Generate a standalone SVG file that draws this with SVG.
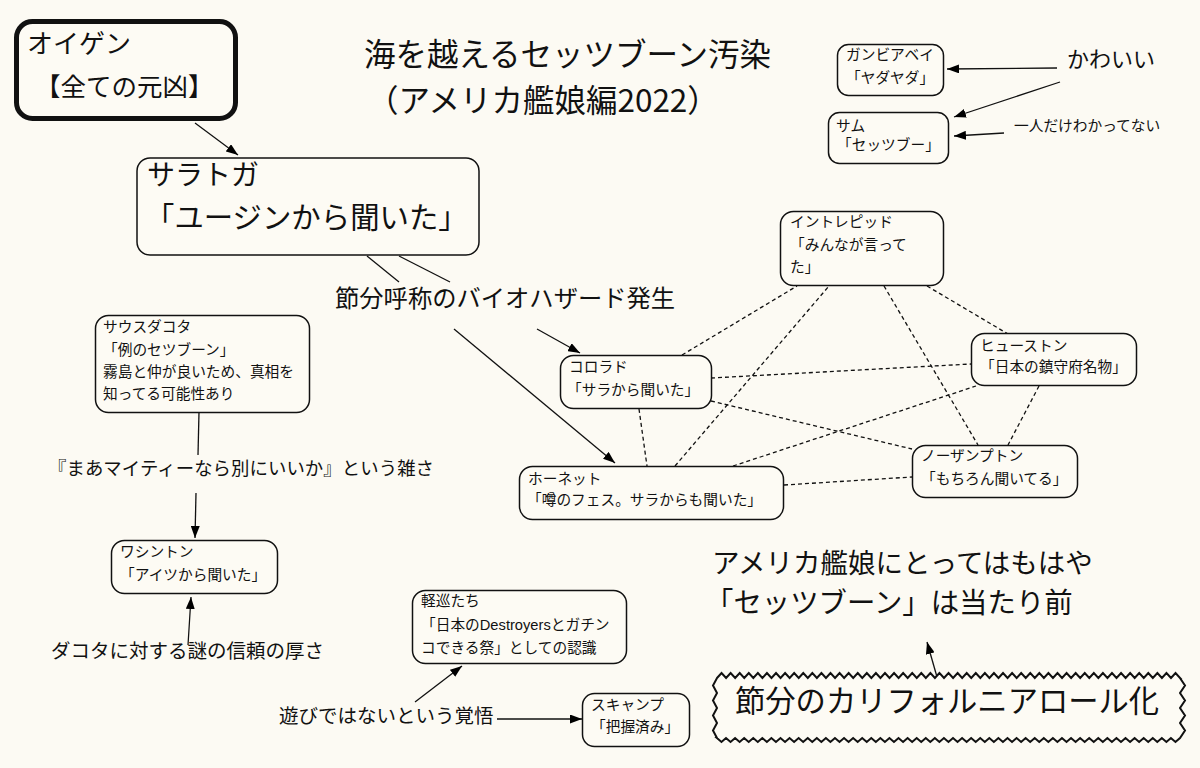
<svg xmlns="http://www.w3.org/2000/svg" width="1200" height="768" viewBox="0 0 1200 768">
<defs>
<marker id="ah" viewBox="0 0 12 9" refX="12" refY="4.5" markerWidth="12" markerHeight="9" orient="auto" markerUnits="userSpaceOnUse">
<path d="M0,0 L12,4.5 L0,9 z" fill="#000"/>
</marker>
<style>
text{font-family:"Noto Sans CJK JP","Noto Sans CJK SC",sans-serif;fill:#111}
.lat{font-family:"Liberation Sans",Arial,sans-serif}
.box{fill:#fdfbf4;stroke:#111;stroke-width:1.5}
.s{font-size:14.7px}
.ln{stroke:#111;stroke-width:1.3;fill:none}
.ar{stroke:#111;stroke-width:1.3;fill:none;marker-end:url(#ah)}
.ds{stroke:#111;stroke-width:1.3;fill:none;stroke-dasharray:4 3}
</style>
</defs>
<rect width="1200" height="768" fill="#fcfaf3"/>

<g id="connectors">
<line class="ar" x1="195" y1="123" x2="238" y2="155"/>
<line class="ln" x1="367" y1="256" x2="399" y2="282"/>
<line class="ln" x1="399" y1="256" x2="450" y2="282"/>
<line class="ar" x1="454" y1="329" x2="615" y2="463"/>
<line class="ar" x1="537" y1="329" x2="580" y2="353"/>
<line class="ar" x1="1057" y1="68" x2="947" y2="69"/>
<line class="ar" x1="1060" y1="82" x2="954" y2="117"/>
<line class="ar" x1="1004" y1="133" x2="954" y2="136"/>
<line class="ln" x1="199" y1="412" x2="198" y2="455"/>
<line class="ar" x1="196" y1="493" x2="195" y2="538"/>
<line class="ar" x1="188" y1="645" x2="191" y2="597"/>
<line class="ar" x1="415" y1="702" x2="462" y2="666"/>
<line class="ar" x1="497" y1="719" x2="582" y2="719"/>
<line class="ar" x1="937" y1="677" x2="927" y2="642"/>
<line class="ds" x1="682" y1="355" x2="797" y2="286"/>
<line class="ds" x1="675" y1="466" x2="829" y2="286"/>
<line class="ds" x1="711" y1="378" x2="971" y2="364"/>
<line class="ds" x1="711" y1="401" x2="912" y2="449"/>
<line class="ds" x1="639" y1="409" x2="647" y2="466"/>
<line class="ds" x1="733" y1="466" x2="976" y2="386"/>
<line class="ds" x1="784" y1="485" x2="912" y2="477"/>
<line class="ds" x1="884" y1="286" x2="978" y2="445"/>
<line class="ds" x1="927" y1="286" x2="1008" y2="334"/>
<line class="ds" x1="1039" y1="386" x2="1008" y2="445"/>
</g>

<g id="title">
<text x="364" y="66" font-size="31.5">海を越えるセッツブーン汚染</text>
<text x="367" y="112" font-size="31.5">（アメリカ艦娘編2022）</text>
</g>

<g id="eugen">
<rect x="16.5" y="21.5" width="219" height="97" rx="16" fill="#fdfbf4" stroke="#111" stroke-width="5"/>
<text x="27" y="53" font-size="26">オイゲン</text>
<text x="35" y="96" font-size="25.5">【全ての元凶】</text>
</g>

<g id="saratoga">
<rect class="box" x="137" y="158" width="342" height="97" rx="13"/>
<text x="147" y="185" font-size="28">サラトガ</text>
<text x="145" y="228" font-size="29.4">「ユージンから聞いた」</text>
</g>

<g id="gambier">
<rect class="box" x="837.5" y="44.5" width="106" height="51" rx="11"/>
<text class="s" x="846" y="60">ガンビアベイ</text>
<text class="s" x="846" y="83">「ヤダヤダ」</text>
</g>

<g id="sam">
<rect class="box" x="828.5" y="112.5" width="120" height="51" rx="11"/>
<text class="s" x="836" y="131">サム</text>
<text class="s" x="837" y="150">「セッツブー」</text>
</g>

<g id="kawaii"><text x="1067" y="67" font-size="22">かわいい</text></g>
<g id="hitori"><text x="1014" y="131" font-size="14.7">一人だけわかってない</text></g>

<g id="intrepid">
<rect class="box" x="780.5" y="211.5" width="163" height="74" rx="13"/>
<text class="s" x="790" y="227">イントレピッド</text>
<text class="s" x="790" y="250">「みんなが言って</text>
<text class="s" x="790" y="272">た」</text>
</g>

<g id="houston">
<rect class="box" x="971.5" y="333.5" width="165" height="52" rx="13"/>
<text class="s" x="980" y="351">ヒューストン</text>
<text class="s" x="980" y="372">「日本の鎮守府名物」</text>
</g>

<g id="northampton">
<rect class="box" x="912.5" y="445.5" width="165" height="52" rx="13"/>
<text class="s" x="921" y="461">ノーザンプトン</text>
<text class="s" x="921" y="484">「もちろん聞いてる」</text>
</g>

<g id="colorado">
<rect class="box" x="560.5" y="355.5" width="151" height="53" rx="13"/>
<text class="s" x="569" y="372">コロラド</text>
<text class="s" x="567" y="395">「サラから聞いた」</text>
</g>

<g id="hornet">
<rect class="box" x="519.5" y="466.5" width="264" height="53" rx="13"/>
<text class="s" x="528" y="484">ホーネット</text>
<text class="s" x="527" y="505">「噂のフェス。サラからも聞いた」</text>
</g>

<g id="biohazard"><text x="335" y="307" font-size="24.3">節分呼称のバイオハザード発生</text></g>

<g id="southdakota">
<rect class="box" x="95.5" y="315.5" width="214" height="97" rx="13"/>
<text class="s" x="103" y="332">サウスダコタ</text>
<text class="s" x="103" y="355">「例のセツブーン」</text>
<text class="s" x="103" y="377">霧島と仲が良いため、真相を</text>
<text class="s" x="103" y="399">知ってる可能性あり</text>
</g>

<g id="mighty"><text x="48" y="475" font-size="18.4" textLength="386" lengthAdjust="spacing">『まあマイティーなら別にいいか』という雑さ</text></g>

<g id="washington">
<rect class="box" x="111.5" y="540.5" width="166" height="53" rx="13"/>
<text class="s" x="120" y="557">ワシントン</text>
<text class="s" x="120" y="580">「アイツから聞いた」</text>
</g>

<g id="dakota-trust"><text x="51" y="658" font-size="19.5">ダコタに対する謎の信頼の厚さ</text></g>

<g id="cruisers">
<rect class="box" x="412.5" y="590.5" width="214" height="73" rx="13"/>
<text class="s" x="421" y="606">軽巡たち</text>
<text class="s" x="421" y="630">「日本の<tspan class="lat">Destroyers</tspan>とガチン</text>
<text class="s" x="421" y="653">コできる祭」としての認識</text>
</g>

<g id="kakugo"><text x="279" y="723" font-size="19.5">遊びではないという覚悟</text></g>

<g id="skipjack">
<rect class="box" x="582.5" y="693.5" width="107" height="53" rx="12"/>
<text class="s" x="591" y="710">スキャンプ</text>
<text class="s" x="591" y="732">「把握済み」</text>
</g>

<g id="atarimae">
<text x="712" y="573" font-size="27.5">アメリカ艦娘にとってはもはや</text>
<text x="705" y="613" font-size="28.4">「セッツブーン」は当たり前</text>
</g>

<g id="california">
<path fill="#fdfbf4" stroke="#111" stroke-width="2" d="M717,678
l4.54-5 4.54 5 4.54-5 4.54 5 4.54-5 4.54 5 4.54-5 4.54 5 4.54-5 4.54 5
l4.54-5 4.54 5 4.54-5 4.54 5 4.54-5 4.54 5 4.54-5 4.54 5 4.54-5 4.54 5
l4.54-5 4.54 5 4.54-5 4.54 5 4.54-5 4.54 5 4.54-5 4.54 5 4.54-5 4.54 5
l4.54-5 4.54 5 4.54-5 4.54 5 4.54-5 4.54 5 4.54-5 4.54 5 4.54-5 4.54 5
l4.54-5 4.54 5 4.54-5 4.54 5 4.54-5 4.54 5 4.54-5 4.54 5 4.54-5 4.54 5
l4.54-5 4.54 5 4.54-5 4.54 5 4.54-5 4.54 5 4.54-5 4.54 5 4.54-5 4.54 5
l4.54-5 4.54 5 4.54-5 4.54 5 4.54-5 4.54 5 4.54-5 4.54 5 4.54-5 4.54 5
l4.54-5 4.54 5 4.54-5 4.54 5 4.54-5 4.54 5 4.54-5 4.54 5 4.54-5 4.54 5
l4.54-5 4.54 5 4.54-5 4.54 5 4.54-5 4.54 5 4.54-5 4.54 5 4.54-5 4.54 5
l4.54-5 4.54 5 4.54-5 4.54 5 4.54-5 4.54 5 4.54-5 4.54 5 4.54-5 4.54 5
l4.54-5 4.54 5
L1180,678 l5 7.5 -5 7.5 5 7.5 -5 7.5 5 7.5 -5 7.5 5 7.5 -5 7.5
L1180,738
l-4.54 4 -4.54-4 -4.54 4 -4.54-4 -4.54 4 -4.54-4 -4.54 4 -4.54-4 -4.54 4 -4.54-4
l-4.54 4 -4.54-4 -4.54 4 -4.54-4 -4.54 4 -4.54-4 -4.54 4 -4.54-4 -4.54 4 -4.54-4
l-4.54 4 -4.54-4 -4.54 4 -4.54-4 -4.54 4 -4.54-4 -4.54 4 -4.54-4 -4.54 4 -4.54-4
l-4.54 4 -4.54-4 -4.54 4 -4.54-4 -4.54 4 -4.54-4 -4.54 4 -4.54-4 -4.54 4 -4.54-4
l-4.54 4 -4.54-4 -4.54 4 -4.54-4 -4.54 4 -4.54-4 -4.54 4 -4.54-4 -4.54 4 -4.54-4
l-4.54 4 -4.54-4 -4.54 4 -4.54-4 -4.54 4 -4.54-4 -4.54 4 -4.54-4 -4.54 4 -4.54-4
l-4.54 4 -4.54-4 -4.54 4 -4.54-4 -4.54 4 -4.54-4 -4.54 4 -4.54-4 -4.54 4 -4.54-4
l-4.54 4 -4.54-4 -4.54 4 -4.54-4 -4.54 4 -4.54-4 -4.54 4 -4.54-4 -4.54 4 -4.54-4
l-4.54 4 -4.54-4 -4.54 4 -4.54-4 -4.54 4 -4.54-4 -4.54 4 -4.54-4 -4.54 4 -4.54-4
l-4.54 4 -4.54-4 -4.54 4 -4.54-4 -4.54 4 -4.54-4 -4.54 4 -4.54-4 -4.54 4 -4.54-4
l-4.54 4 -4.54-4
L717,738 l-4-7.5 4-7.5 -4-7.5 4-7.5 -4-7.5 4-7.5 -4-7.5 4-7.5 z"/>
<text x="735" y="712" font-size="30.3">節分のカリフォルニアロール化</text>
</g>
</svg>
